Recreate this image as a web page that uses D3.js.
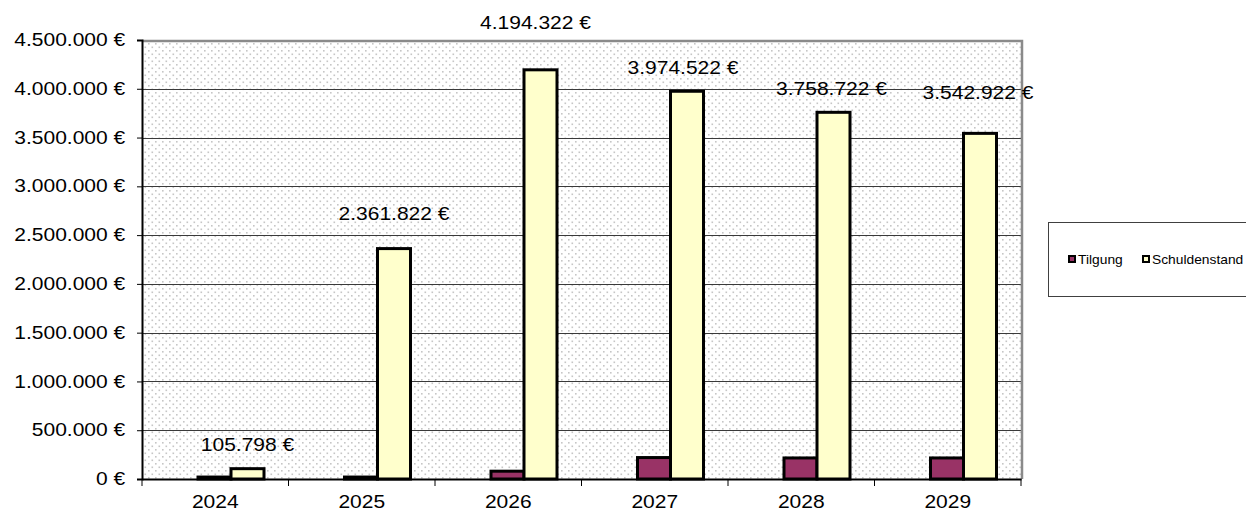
<!DOCTYPE html>
<html>
<head>
<meta charset="utf-8">
<script src="https://cdn.jsdelivr.net/npm/d3@7"></script>
<style>
  body { margin: 0; background: #fff; }
  svg text { font-family: "Liberation Sans", Arial, sans-serif; fill: #000; }
</style>
</head>
<body>
<div id="chart"></div>
<script>
var years = ['2024', '2025', '2026', '2027', '2028', '2029'];
var tilgung = [20000, 20000, 80000, 219800, 215800, 215800];
var schuldenstand = [105798, 2361822, 4194322, 3974522, 3758722, 3542922];
var yTicks = [0, 500000, 1000000, 1500000, 2000000, 2500000, 3000000, 3500000, 4000000, 4500000];
var seriesNames = ['Tilgung', 'Schuldenstand'];
var seriesColors = ['#993366', '#FFFFCC'];
// label offsets above the bar (Excel placed them a bit unevenly)
var labelRise = [24, 35, 47, 23, 23, 40];
var labelShift = [0, 0, -5, -4, -2, -2];

var width = 1246, height = 512;
var plot = {left: 142, top: 40, right: 1021, bottom: 479};
var stretch = 1.2;  // the original text is a bit wider than normal
var fontSize = '17.5px';

function euro(v) {
    return d3.format(',.0f')(v).replace(/,/g, '.') + ' \u20AC';
}

var svg = d3.select('#chart').append('svg')
    .attr('width', width)
    .attr('height', height);

var defs = svg.append('defs');
var pat = defs.append('pattern')
    .attr('id', 'dots')
    .attr('patternUnits', 'userSpaceOnUse')
    .attr('width', 7)
    .attr('height', 7);
pat.append('rect').attr('width', 7).attr('height', 7).attr('fill', '#ffffff');
pat.append('rect').attr('x', 1).attr('y', 1).attr('width', 1.6).attr('height', 1.6).attr('fill', '#c6c6c6');
pat.append('rect').attr('x', 4.5).attr('y', 4.5).attr('width', 1.6).attr('height', 1.6).attr('fill', '#c6c6c6');

var x = d3.scaleBand()
    .domain(years)
    .range([plot.left, plot.right])
    .padding(0);

var y = d3.scaleLinear()
    .domain([0, 4500000])
    .range([plot.bottom, plot.top]);

var barW = 33, barStart = 56;

// plot area
svg.append('rect')
    .attr('x', plot.left)
    .attr('y', plot.top)
    .attr('width', plot.right - plot.left)
    .attr('height', plot.bottom - plot.top)
    .attr('fill', 'url(#dots)');

// gridlines
svg.append('g').selectAll('line')
    .data(yTicks.slice(1, -1))
    .enter().append('line')
    .attr('x1', plot.left).attr('x2', plot.right)
    .attr('y1', function(d) { return Math.round(y(d)) + 0.5; })
    .attr('y2', function(d) { return Math.round(y(d)) + 0.5; })
    .attr('stroke', '#3a3a3a')
    .attr('stroke-width', 1.2);

// top and right border
svg.append('path')
    .attr('d', 'M' + plot.left + ',' + (plot.top + 1) + 'H' + (plot.right + 1) + 'V' + plot.bottom)
    .attr('fill', 'none')
    .attr('stroke', '#8a8a8a')
    .attr('stroke-width', 2.5);

// bars
var groups = svg.append('g').selectAll('g')
    .data(years)
    .enter().append('g')
    .attr('transform', function(d) { return 'translate(' + (x(d) + barStart) + ',0)'; });

groups.append('rect')
    .attr('x', 0)
    .attr('y', function(d, i) { return y(tilgung[i]); })
    .attr('width', barW)
    .attr('height', function(d, i) { return y(0) - y(tilgung[i]); })
    .attr('fill', seriesColors[0])
    .attr('stroke', '#000')
    .attr('stroke-width', 3);

groups.append('rect')
    .attr('x', barW)
    .attr('y', function(d, i) { return y(schuldenstand[i]); })
    .attr('width', barW)
    .attr('height', function(d, i) { return y(0) - y(schuldenstand[i]); })
    .attr('fill', seriesColors[1])
    .attr('stroke', '#000')
    .attr('stroke-width', 3);

// value labels
svg.append('g').selectAll('text')
    .data(years)
    .enter().append('text')
    .attr('transform', function(d, i) {
        var cx = x(d) + barStart + barW * 1.5 + labelShift[i];
        var cy = y(schuldenstand[i]) - labelRise[i];
        return 'translate(' + cx + ',' + cy + ') scale(' + stretch + ',1)';
    })
    .attr('text-anchor', 'middle')
    .attr('dy', '0.35em')
    .style('font-size', fontSize)
    .text(function(d, i) { return euro(schuldenstand[i]); });

// y axis
var yAxis = svg.append('g')
    .attr('transform', 'translate(' + plot.left + ',0)')
    .call(d3.axisLeft(y).tickValues(yTicks).tickSize(5).tickPadding(9).tickFormat(euro));
yAxis.select('.domain').attr('stroke', '#000').attr('stroke-width', 2);
yAxis.selectAll('.tick line').attr('stroke', '#000');
yAxis.selectAll('.tick text')
    .style('font-size', fontSize)
    .attr('transform', 'scale(' + stretch + ',1)');

// x axis: ticks on the category boundaries, labels in the middle
var xAxis = svg.append('g')
    .attr('transform', 'translate(0,' + plot.bottom + ')')
    .call(d3.axisBottom(x).tickSize(0).tickPadding(17));
xAxis.select('.domain').attr('stroke', '#000').attr('stroke-width', 2);
xAxis.selectAll('.tick text')
    .style('font-size', fontSize)
    .attr('transform', 'scale(' + stretch + ',1)');
xAxis.selectAll('.bound')
    .data(years.concat(['end']))
    .enter().append('line')
    .attr('class', 'bound')
    .attr('x1', function(d) { return d === 'end' ? plot.right : x(d); })
    .attr('x2', function(d) { return d === 'end' ? plot.right : x(d); })
    .attr('y1', 0).attr('y2', 7)
    .attr('stroke', '#000');

// legend
var legend = svg.append('g');
legend.append('rect')
    .attr('x', 1048.5).attr('y', 222.5)
    .attr('width', 220).attr('height', 74)
    .attr('fill', '#fff')
    .attr('stroke', '#404040');

var legendX = [1068, 1142];
seriesNames.forEach(function(name, i) {
    legend.append('rect')
        .attr('x', legendX[i] + 1).attr('y', 256)
        .attr('width', 6).attr('height', 6)
        .attr('fill', seriesColors[i])
        .attr('stroke', '#000')
        .attr('stroke-width', 2);
    legend.append('text')
        .attr('transform', 'translate(' + (legendX[i] + 10) + ',264) scale(1.15,1)')
        .style('font-size', '12px')
        .text(name);
});
</script>
</body>
</html>
